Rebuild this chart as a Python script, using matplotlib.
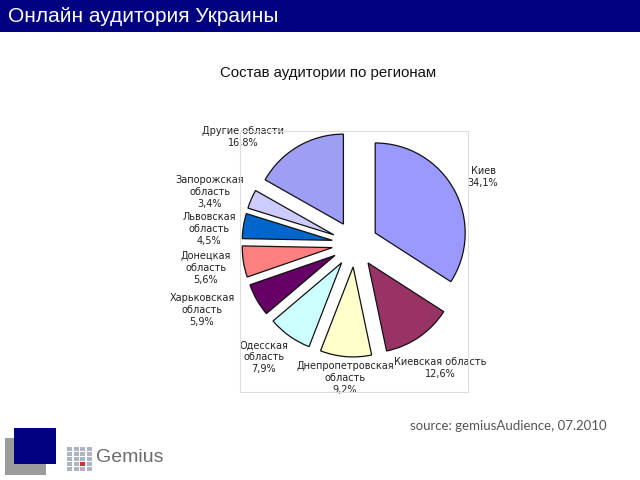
import matplotlib
matplotlib.use('Agg')
import matplotlib.pyplot as plt
from matplotlib.patches import Rectangle

# data
regions = ['Киев', 'Киевская область', 'Днепропетровская\nобласть', 'Одесская\nобласть',
           'Харьковская\nобласть', 'Донецкая\nобласть', 'Львовская\nобласть',
           'Запорожская\nобласть', 'Другие области']
shares = [34.1, 12.6, 9.2, 7.9, 5.9, 5.6, 4.5, 3.4, 16.8]
colors = ['#9999FF', '#993366', '#FFFFCC', '#CCFFFF', '#660066',
          '#FF8080', '#0066CC', '#CCCCFF', '#9E9EF5']

# label placement (layout only), data coords of the pie axes
label_xy = [(1.28, 0.67), (0.85, -1.24), (-0.10, -1.34), (-0.91, -1.13),
            (-1.53, -0.66), (-1.49, -0.24), (-1.46, 0.15), (-1.45, 0.52), (-1.12, 1.07)]

W, H = 640, 480
fig = plt.figure(figsize=(6.4, 4.8), dpi=100)

def fx(px):
    return px / W

def fy(py):
    return 1 - py / H

# header bar
fig.patches.append(Rectangle((0, fy(32)), 1, 32 / H, transform=fig.transFigure,
                             facecolor='#000080', edgecolor='none'))
fig.text(fx(8), fy(16), 'Онлайн аудитория Украины', color='white', fontsize=15,
         family='Liberation Sans', va='center', ha='left')

fig.text(fx(328), fy(73), 'Состав аудитории по регионам', fontsize=10.8,
         family='Liberation Sans', ha='center', va='center', color='#111111')

# faint plot area frame
fig.patches.append(Rectangle((fx(240), fy(392)), (468 - 240) / W, (392 - 131) / H,
                             transform=fig.transFigure, facecolor='none',
                             edgecolor='#dddddd', lw=0.8))

# pie, center at (355, 244) px
ax = fig.add_axes([fx(205), fy(394), 300 / W, 300 / H])
ax.pie(shares, colors=colors, startangle=90, counterclock=False, radius=0.9,
       explode=[0.23] * len(shares),
       wedgeprops=dict(edgecolor='#111111', linewidth=0.9))
ax.set_xlim(-1.5, 1.5)
ax.set_ylim(-1.5, 1.5)
ax.set_aspect('equal')
ax.axis('off')

for name, val, (x, y) in zip(regions, shares, label_xy):
    txt = name + '\n' + ('%.1f' % val).replace('.', ',') + '%'
    ax.text(x, y, txt, ha='center', va='center', multialignment='center',
            fontsize=7, family='DejaVu Sans', color='#222222', linespacing=1.2)

# source note
fig.text(fx(410), fy(426), 'source: gemiusAudience, 07.2010', fontsize=9.5,
         family='Lato', color='#555555', ha='left', va='center')

# logo squares
fig.patches.append(Rectangle((fx(5), fy(475)), 41 / W, 37 / H, transform=fig.transFigure,
                             facecolor='#9b9b9b', edgecolor='none'))
fig.patches.append(Rectangle((fx(14), fy(464)), 42 / W, 36 / H, transform=fig.transFigure,
                             facecolor='#000080', edgecolor='none'))
for i in range(4):
    for j in range(5):
        c = '#d03030' if (i == 2 and j == 3) else '#aeb4c4'
        fig.patches.append(Rectangle((fx(67 + i * 6.5), fy(447 + j * 5 + 4)), 5 / W, 4 / H,
                                     transform=fig.transFigure, facecolor=c, edgecolor='none'))
fig.text(fx(96), fy(458), 'Gemius', fontsize=14, family='Liberation Sans',
         color='#6b6b6b', ha='left', va='center')

fig.savefig('out.png', dpi=100)
